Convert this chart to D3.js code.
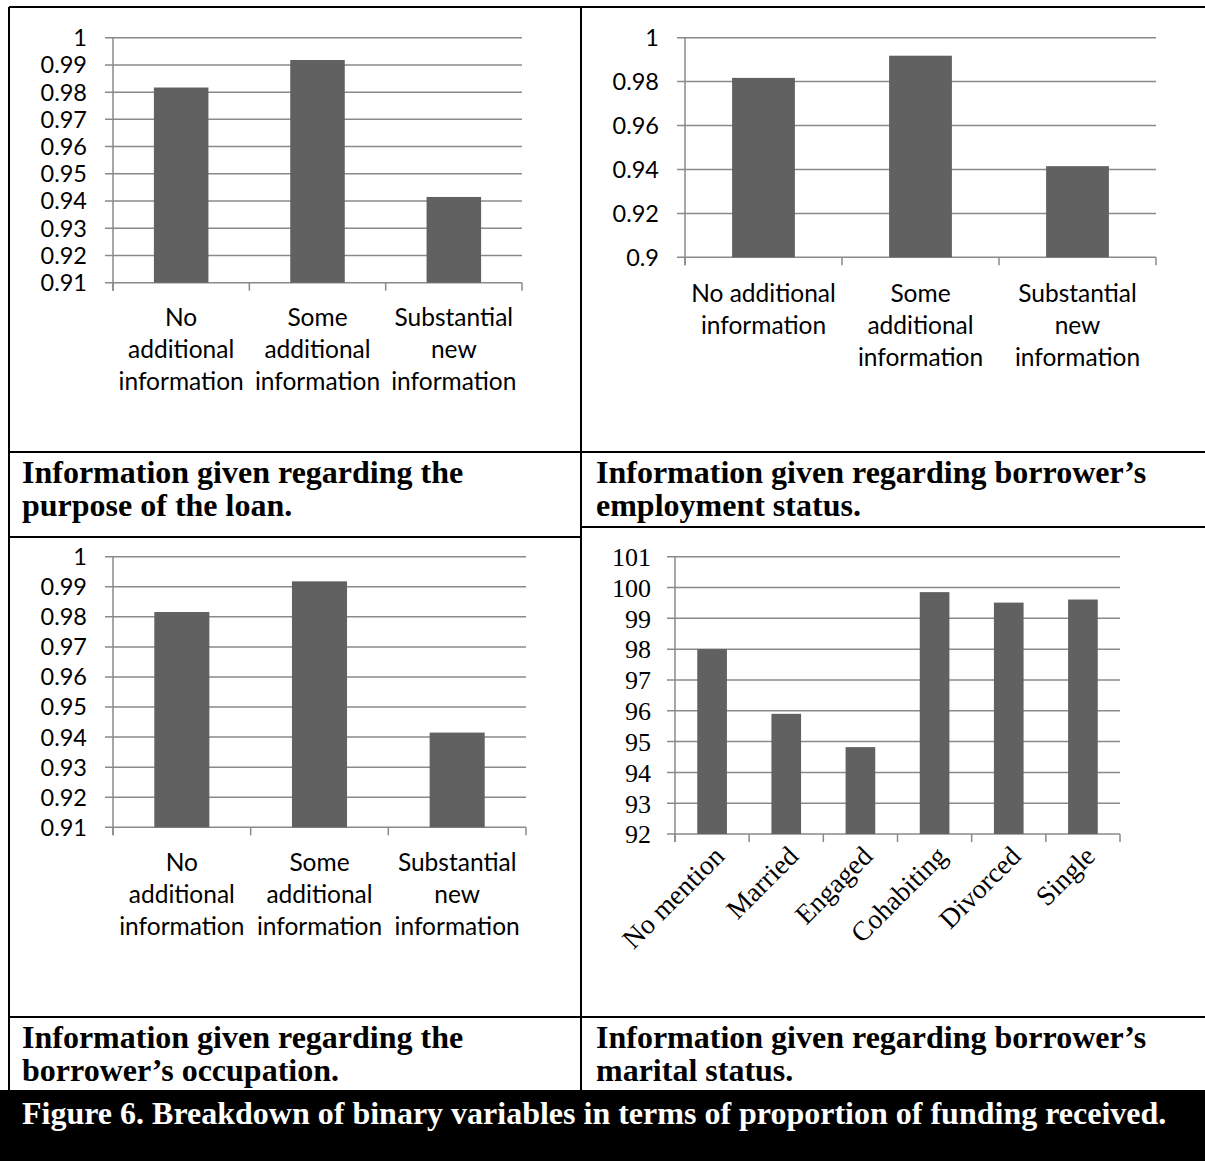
<!DOCTYPE html>
<html>
<head>
<meta charset="utf-8">
<script src="https://cdn.jsdelivr.net/npm/d3@7"></script>
<style>
  html, body { margin: 0; padding: 0; background: #fff; }
  svg { display: block; }
</style>
</head>
<body>
<svg id="chart" width="1205" height="1161"></svg>
<script>
// ---------------- DATA ----------------
const infoCategories = ["No additional information", "Some additional information", "Substantial new information"];
const purposeLabels = [["No", "additional", "information"], ["Some", "additional", "information"], ["Substantial", "new", "information"]];
const employmentLabels = [["No additional", "information"], ["Some", "additional", "information"], ["Substantial", "new", "information"]];
const occupationLabels = [["No", "additional", "information"], ["Some", "additional", "information"], ["Substantial", "new", "information"]];

const purposeValues = [0.9817, 0.9918, 0.9415];
const employmentValues = [0.9817, 0.9918, 0.9415];
const occupationValues = [0.9816, 0.9918, 0.9415];

const maritalCategories = ["No mention", "Married", "Engaged", "Cohabiting", "Divorced", "Single"];
const maritalValues = [98.0, 95.9, 94.82, 99.85, 99.51, 99.61];

const purposeTicks = [0.91, 0.92, 0.93, 0.94, 0.95, 0.96, 0.97, 0.98, 0.99, 1];
const purposeTickLabels = ["0.91", "0.92", "0.93", "0.94", "0.95", "0.96", "0.97", "0.98", "0.99", "1"];
const employmentTicks = [0.9, 0.92, 0.94, 0.96, 0.98, 1];
const employmentTickLabels = ["0.9", "0.92", "0.94", "0.96", "0.98", "1"];
const maritalTicks = [92, 93, 94, 95, 96, 97, 98, 99, 100, 101];
const maritalTickLabels = ["92", "93", "94", "95", "96", "97", "98", "99", "100", "101"];

const panelTitles = [
  ["Information given regarding the", "purpose of the loan."],
  ["Information given regarding borrower\u2019s", "employment status."],
  ["Information given regarding the", "borrower\u2019s occupation."],
  ["Information given regarding borrower\u2019s", "marital status."]
];
const figureCaption = "Figure 6. Breakdown of binary variables in terms of proportion of funding received.";

// ---------------- STYLE / LAYOUT ----------------
const BAR = "#616161";
const GRID = "#8a8a8a";
const SANS = "Lato, 'Open Sans', sans-serif";
const SERIF = "'Liberation Serif', 'Times New Roman', serif";

const svg = d3.select("#chart");

function drawChart(cfg) {
  const g = svg.append("g");
  const x = d3.scaleBand().domain(cfg.categories).range([cfg.x0, cfg.x1])
    .paddingInner(0.6).paddingOuter(0.3);
  const y = d3.scaleLinear().domain([cfg.ticks[0], cfg.ticks[cfg.ticks.length - 1]])
    .range([cfg.yBot, cfg.yTop]);

  g.selectAll("line.grid").data(cfg.ticks).enter().append("line")
    .attr("x1", cfg.x0 - 8).attr("x2", cfg.x1)
    .attr("y1", d => y(d)).attr("y2", d => y(d))
    .attr("stroke", GRID).attr("stroke-width", 1.5);

  g.append("line").attr("x1", cfg.x0).attr("x2", cfg.x0)
    .attr("y1", cfg.yTop).attr("y2", cfg.yBot + 8)
    .attr("stroke", GRID).attr("stroke-width", 1.5);

  const step = x.step();
  const bounds = d3.range(cfg.categories.length + 1).map(i => cfg.x0 + i * step);
  g.selectAll("line.xt").data(bounds).enter().append("line")
    .attr("x1", d => d).attr("x2", d => d)
    .attr("y1", cfg.yBot).attr("y2", cfg.yBot + 8)
    .attr("stroke", GRID).attr("stroke-width", 1.5);

  g.selectAll("rect").data(cfg.values).enter().append("rect")
    .attr("x", (d, i) => x(cfg.categories[i]))
    .attr("width", x.bandwidth())
    .attr("y", d => y(d))
    .attr("height", d => y(cfg.ticks[0]) - y(d))
    .attr("fill", BAR);

  g.selectAll("text.yl").data(cfg.ticks).enter().append("text")
    .attr("x", cfg.labelRight).attr("y", d => y(d)).attr("dy", "0.36em")
    .attr("text-anchor", "end")
    .attr("font-family", cfg.font).attr("font-size", cfg.fontSize)
    .attr("fill", "#000")
    .text((d, i) => cfg.tickLabels[i]);

  if (cfg.rotate) {
    cfg.categories.forEach((c, i) => {
      const cx = x(c) + x.bandwidth() / 2;
      g.append("text")
        .attr("transform", `translate(${cx + 7},${cfg.yBot + 17}) rotate(-45)`)
        .attr("text-anchor", "end").attr("dy", "0.35em")
        .attr("font-family", cfg.font).attr("font-size", cfg.xFontSize)
        .attr("fill", "#000")
        .text(c);
    });
  } else {
    cfg.categories.forEach((c, i) => {
      const cx = x(c) + x.bandwidth() / 2;
      const t = g.append("text").attr("text-anchor", "middle")
        .attr("font-family", cfg.font).attr("font-size", cfg.xFontSize).attr("fill", "#000");
      cfg.xLabels[i].forEach((line, k) => {
        t.append("tspan").attr("x", cx).attr("y", cfg.xLabelY + k * 32).attr("dy", "0.36em").text(line);
      });
    });
  }
}

drawChart({
  categories: infoCategories, values: purposeValues, xLabels: purposeLabels,
  ticks: purposeTicks, tickLabels: purposeTickLabels,
  x0: 113, x1: 522, yTop: 37.7, yBot: 282.7, labelRight: 87, xLabelY: 317,
  font: SANS, fontSize: 23.5, xFontSize: 24.5
});
drawChart({
  categories: infoCategories, values: employmentValues, xLabels: employmentLabels,
  ticks: employmentTicks, tickLabels: employmentTickLabels,
  x0: 685, x1: 1156, yTop: 37.7, yBot: 257.3, labelRight: 659, xLabelY: 293,
  font: SANS, fontSize: 23.5, xFontSize: 24.5
});
drawChart({
  categories: infoCategories, values: occupationValues, xLabels: occupationLabels,
  ticks: purposeTicks, tickLabels: purposeTickLabels,
  x0: 113, x1: 526, yTop: 556.7, yBot: 827.3, labelRight: 87, xLabelY: 862,
  font: SANS, fontSize: 23.5, xFontSize: 24.5
});
drawChart({
  categories: maritalCategories, values: maritalValues,
  ticks: maritalTicks, tickLabels: maritalTickLabels,
  x0: 675, x1: 1120, yTop: 556.7, yBot: 834, labelRight: 651,
  font: SERIF, fontSize: 26, xFontSize: 27.5, rotate: true
});

// ---------------- TABLE LINES ----------------
const lines = [
  [9, 7, 1205, 7], [9, 7, 9, 1090], [581, 7, 581, 1090],
  [9, 452, 1205, 452], [9, 537, 581, 537], [581, 527, 1205, 527],
  [9, 1017, 1205, 1017]
];
svg.selectAll("line.tbl").data(lines).enter().append("line")
  .attr("x1", d => d[0]).attr("y1", d => d[1]).attr("x2", d => d[2]).attr("y2", d => d[3])
  .attr("stroke", "#000").attr("stroke-width", 2);

const titlePos = [[22, 472], [596, 472], [22, 1037], [596, 1037]];
panelTitles.forEach((lns, i) => {
  const t = svg.append("text").attr("font-family", SERIF).attr("font-weight", "bold")
    .attr("font-size", 32).attr("fill", "#000");
  lns.forEach((l, k) => {
    t.append("tspan").attr("x", titlePos[i][0]).attr("y", titlePos[i][1] + k * 33)
      .attr("dy", "0.35em").text(l);
  });
});

svg.append("rect").attr("x", 0).attr("y", 1090).attr("width", 1205).attr("height", 71).attr("fill", "#000");
svg.append("text").attr("x", 22).attr("y", 1113).attr("dy", "0.35em")
  .attr("font-family", SERIF).attr("font-weight", "bold").attr("font-size", 32)
  .attr("fill", "#fff").text(figureCaption);
</script>
</body>
</html>
